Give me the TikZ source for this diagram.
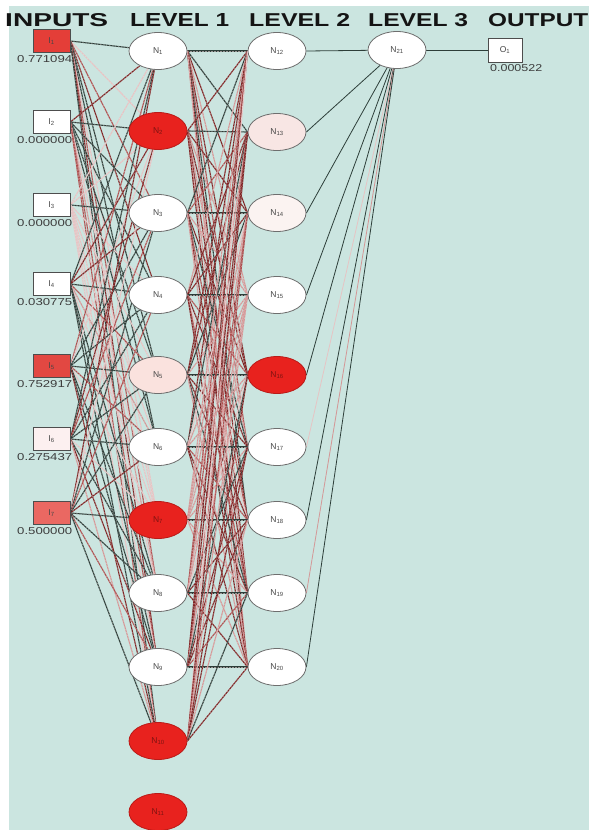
\documentclass[tikz,border=0pt]{standalone}
\usepackage{fontspec}
\setmainfont{Liberation Sans}
\usepackage{graphicx}
\usetikzlibrary{shapes.geometric}
\pgfdeclarelayer{bg}
\pgfdeclarelayer{edges}
\pgfsetlayers{bg,edges,main}

\definecolor{bgteal}{RGB}{203,229,224}
\definecolor{nred}{RGB}{232,34,30}
\definecolor{npink}{RGB}{250,226,222}
\definecolor{npinkb}{RGB}{248,230,228}
\definecolor{npinkc}{RGB}{251,243,241}
\definecolor{inA}{RGB}{228,62,56}
\definecolor{inB}{RGB}{226,72,66}
\definecolor{inC}{RGB}{234,104,98}
\definecolor{inD}{RGB}{252,240,240}
\definecolor{nodegray}{RGB}{110,110,110}
\definecolor{labelgray}{RGB}{70,70,70}
\definecolor{hdrcol}{RGB}{20,20,20}
\definecolor{valgray}{RGB}{60,60,60}
\definecolor{wDark}{RGB}{45,62,57}
\definecolor{wMaroon}{RGB}{125,35,35}
\definecolor{wRed}{RGB}{172,78,78}
\definecolor{wPink}{RGB}{212,150,150}
\definecolor{wLight}{RGB}{230,196,196}
\definecolor{wTex}{RGB}{245,225,225}

\newcommand{\pickwireA}[1]{\ifcase#1 wDark\or wDark\or wDark\or wDark\or wMaroon\or wMaroon\or wRed\or wRed\or wPink\or wLight\else wDark\fi}
\newcommand{\pickwireB}[1]{\ifcase#1 wDark\or wMaroon\or wMaroon\or wMaroon\or wMaroon\or wRed\or wRed\or wPink\or wPink\or wLight\else wDark\fi}

\begin{document}
\begin{tikzpicture}[x=1pt,y=-1pt,
  neuron/.style={ellipse,draw=nodegray,line width=0.8pt,fill=white,
    minimum width=58pt,minimum height=37pt,inner sep=0pt,
    font=\fontsize{8.5}{9}\selectfont,text=labelgray},
  hotneuron/.style={neuron,fill=nred,draw=nred!80!black,text=nred!55!black},
  inbox/.style={rectangle,draw=nodegray!70!black,line width=0.8pt,fill=white,
    minimum width=37pt,minimum height=23pt,inner sep=0pt,
    font=\fontsize{8.5}{9}\selectfont,text=labelgray},
  val/.style={inner sep=0pt,anchor=north east,text=valgray},
  hdr/.style={inner sep=0pt,anchor=south west,text=hdrcol},
  wire/.style={line width=1.1pt},
  wiretex/.style={line width=0.5pt,draw=wTex,opacity=0.55,dash pattern=on 1.2pt off 1.8pt}
]
\useasboundingbox (0,0) rectangle (589,830);
\begin{pgfonlayer}{bg}
  \fill[white] (0,0) rectangle (589,830);
  \fill[bgteal] (9,6) rectangle (589,830);
\end{pgfonlayer}

% headers
\node[hdr] (hIn)  at (5,27)   {\resizebox{103pt}{13pt}{\bfseries INPUTS}};
\node[hdr] (hL1)  at (130,27) {\resizebox{99pt}{13pt}{\bfseries LEVEL 1}};
\node[hdr] (hL2)  at (249,27) {\resizebox{101pt}{13pt}{\bfseries LEVEL 2}};
\node[hdr] (hL3)  at (368,27) {\resizebox{100pt}{13pt}{\bfseries LEVEL 3}};
\node[hdr] (hOut) at (488,27) {\resizebox{100pt}{13pt}{\bfseries OUTPUT}};

% inputs
\node[inbox,fill=inA] (I1) at (51.5,41)  {I\textsubscript{1}};
\node[inbox]          (I2) at (51.5,122) {I\textsubscript{2}};
\node[inbox]          (I3) at (51.5,205) {I\textsubscript{3}};
\node[inbox]          (I4) at (51.5,284) {I\textsubscript{4}};
\node[inbox,fill=inB] (I5) at (51.5,366) {I\textsubscript{5}};
\node[inbox,fill=inD] (I6) at (51.5,439) {I\textsubscript{6}};
\node[inbox,fill=inC] (I7) at (51.5,513) {I\textsubscript{7}};

\node[val] (v1) at ([shift={(2,2.5)}]I1.south east) {\resizebox{55pt}{7pt}{0.771094}};
\node[val] (v2) at ([shift={(2,2.5)}]I2.south east) {\resizebox{55pt}{7pt}{0.000000}};
\node[val] (v3) at ([shift={(2,2.5)}]I3.south east) {\resizebox{55pt}{7pt}{0.000000}};
\node[val] (v4) at ([shift={(2,2.5)}]I4.south east) {\resizebox{55pt}{7pt}{0.030775}};
\node[val] (v5) at ([shift={(2,2.5)}]I5.south east) {\resizebox{55pt}{7pt}{0.752917}};
\node[val] (v6) at ([shift={(2,2.5)}]I6.south east) {\resizebox{55pt}{7pt}{0.275437}};
\node[val] (v7) at ([shift={(2,2.5)}]I7.south east) {\resizebox{55pt}{7pt}{0.500000}};

% level 1
\node[neuron]                 (N1)  at (158,51)  {N\textsubscript{1}};
\node[hotneuron]              (N2)  at (158,131) {N\textsubscript{2}};
\node[neuron]                 (N3)  at (158,213) {N\textsubscript{3}};
\node[neuron]                 (N4)  at (158,295) {N\textsubscript{4}};
\node[neuron,fill=npink]      (N5)  at (158,375) {N\textsubscript{5}};
\node[neuron]                 (N6)  at (158,447) {N\textsubscript{6}};
\node[hotneuron]              (N7)  at (158,520) {N\textsubscript{7}};
\node[neuron]                 (N8)  at (158,593) {N\textsubscript{8}};
\node[neuron]                 (N9)  at (158,667) {N\textsubscript{9}};
\node[hotneuron]              (N10) at (158,741) {N\textsubscript{10}};
\node[hotneuron]              (N11) at (158,812) {N\textsubscript{11}};

% level 2
\node[neuron]                 (N12) at (277,51)  {N\textsubscript{12}};
\node[neuron,fill=npinkb]     (N13) at (277,132) {N\textsubscript{13}};
\node[neuron,fill=npinkc]     (N14) at (277,213) {N\textsubscript{14}};
\node[neuron]                 (N15) at (277,295) {N\textsubscript{15}};
\node[hotneuron]              (N16) at (277,375) {N\textsubscript{16}};
\node[neuron]                 (N17) at (277,447) {N\textsubscript{17}};
\node[neuron]                 (N18) at (277,520) {N\textsubscript{18}};
\node[neuron]                 (N19) at (277,593) {N\textsubscript{19}};
\node[neuron]                 (N20) at (277,667) {N\textsubscript{20}};

% level 3 and output
\node[neuron]                 (N21) at (397,50)  {N\textsubscript{21}};
\node[inbox,minimum width=34pt,minimum height=24pt] (O1) at (505,50) {O\textsubscript{1}};
\node[val] (vo) at ([shift={(20,2)}]O1.south east) {\resizebox{52pt}{7pt}{0.000522}};

\begin{pgfonlayer}{edges}
  % inputs -> level 1
  \foreach \i in {1,...,7}{
    \foreach \j in {1,...,10}{
      \pgfmathtruncatemacro{\k}{ifthenelse(\i==\j,0,mod(\i*3+\j*7+\i*\j,10))}
      \edef\wc{\pickwireA{\k}}
      \draw[wire,draw=\wc] (I\i.east) -- (N\j);
      \draw[wiretex] (I\i.east) -- (N\j);
    }
  }
  % level 1 -> level 2
  \foreach \j in {1,...,10}{
    \foreach \m in {12,...,20}{
      \pgfmathtruncatemacro{\k}{ifthenelse(\m-11==\j,0,mod(\j*5+\m*3+\j*\m+3,10))}
      \edef\wc{\pickwireB{\k}}
      \draw[wire,draw=\wc] (N\j.east) -- (N\m.west);
      \draw[wiretex] (N\j.east) -- (N\m.west);
    }
  }
  % level 2 -> level 3
  \foreach \m/\c in {12/wDark,13/wDark,14/wDark,15/wDark,16/wDark,17/wLight,18/wDark,19/wPink,20/wDark}{
    \draw[line width=0.8pt,draw=\c] (N\m.east) -- (N21);
  }
  \draw[line width=0.8pt,draw=wDark] (N21.east) -- (O1.west);
\end{pgfonlayer}
\end{tikzpicture}
\end{document}
